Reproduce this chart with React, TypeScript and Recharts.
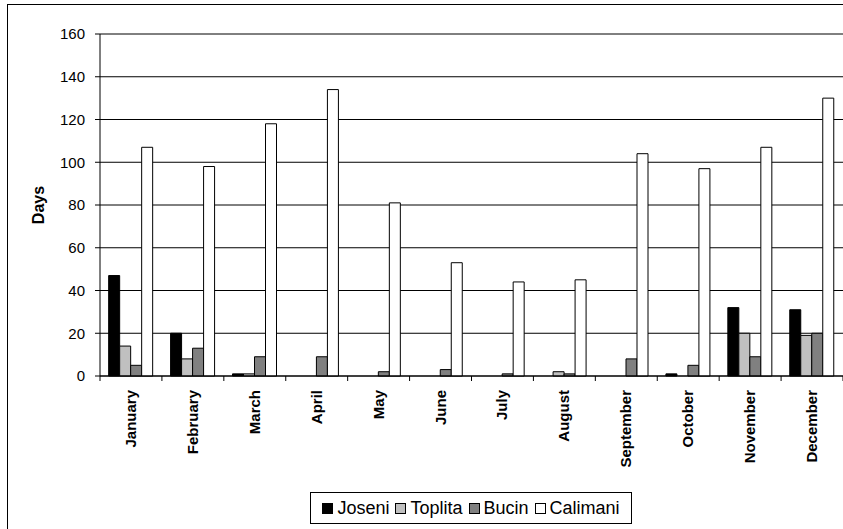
import { BarChart, Bar, XAxis, YAxis, CartesianGrid } from 'recharts';

const months = ['January', 'February', 'March', 'April', 'May', 'June', 'July', 'August', 'September', 'October', 'November', 'December'];
const joseni = [47, 20, 1, 0, 0, 0, 0, 0, 0, 1, 32, 31];
const toplita = [14, 8, 1, 0, 0, 0, 0, 2, 0, 0, 20, 19];
const bucin = [5, 13, 9, 9, 2, 3, 1, 1, 8, 5, 9, 20];
const calimani = [107, 98, 118, 134, 81, 53, 44, 45, 104, 97, 107, 130];
const yTicks = [0, 20, 40, 60, 80, 100, 120, 140, 160];

const series = [
  { key: 'Joseni', color: '#000000' },
  { key: 'Toplita', color: '#c0c0c0' },
  { key: 'Bucin', color: '#808080' },
  { key: 'Calimani', color: '#ffffff' },
];

const data = months.map((m, i) => ({
  month: m,
  Joseni: joseni[i],
  Toplita: toplita[i],
  Bucin: bucin[i],
  Calimani: calimani[i],
}));

const FONT = '"Liberation Sans", Arial, sans-serif';
const CHART_W = 843;
const CHART_H = 529;
const Y_AXIS_W = 100;
const BAND = (CHART_W - Y_AXIS_W) / months.length;

// month names run bottom-to-top; tick marks sit on the category boundaries
const MonthTick = (props: any) => {
  const { x, y, payload, index } = props;
  const left = x - BAND / 2;
  return (
    <g>
      <line x1={left} y1={y} x2={left} y2={y + 5} stroke="#000" />
      {index === months.length - 1 && (
        <line x1={x + BAND / 2} y1={y} x2={x + BAND / 2} y2={y + 5} stroke="#000" />
      )}
      <text
        x={x + 5}
        y={y + 14}
        transform={`rotate(-90 ${x + 5} ${y + 14})`}
        textAnchor="end"
        fontFamily={FONT}
        fontSize={15}
        fontWeight="bold"
        fill="#000"
      >
        {payload.value}
      </text>
    </g>
  );
};

const App = () => {
  return (
    <div style={{ position: 'absolute', left: 0, top: 0, width: CHART_W, height: CHART_H, overflow: 'hidden', background: '#fff' }}>
      <div style={{ position: 'absolute', left: 7, top: 4, width: 900, height: 600, border: '1px solid #000' }} />
      <div style={{ position: 'absolute', left: 0, top: 0 }}>
        <BarChart
          width={CHART_W}
          height={CHART_H}
          data={data}
          margin={{ top: 34, right: 0, bottom: 0, left: 0 }}
          barCategoryGap="14%"
          barGap={0}
        >
          <CartesianGrid vertical={false} stroke="#000" />
          <XAxis
            dataKey="month"
            height={CHART_H - 376}
            interval={0}
            tickLine={false}
            tickSize={0}
            tickMargin={0}
            axisLine={{ stroke: '#000' }}
            tick={<MonthTick />}
          />
          <YAxis
            width={Y_AXIS_W}
            domain={[0, 160]}
            ticks={yTicks}
            interval={0}
            tickSize={5}
            tickMargin={10}
            axisLine={{ stroke: '#000' }}
            tickLine={{ stroke: '#000' }}
            tick={{ fill: '#000', fontSize: 15, fontFamily: FONT }}
            label={{
              content: () => (
                <text
                  x={38}
                  y={205}
                  transform="rotate(-90 38 205)"
                  textAnchor="middle"
                  dominantBaseline="central"
                  fontFamily={FONT}
                  fontSize={16}
                  fontWeight="bold"
                  fill="#000"
                >
                  Days
                </text>
              ),
            }}
          />
          {series.map((s) => (
            <Bar key={s.key} dataKey={s.key} fill={s.color} stroke="#000" strokeWidth={1} isAnimationActive={false} />
          ))}
        </BarChart>
      </div>
      <div
        style={{
          position: 'absolute',
          left: 310,
          top: 492,
          width: 320,
          height: 30,
          border: '1px solid #000',
          background: '#fff',
          display: 'flex',
          alignItems: 'center',
          justifyContent: 'center',
          gap: 6,
          fontFamily: FONT,
          fontSize: 18,
          color: '#000',
        }}
      >
        {series.map((s) => (
          <div key={s.key} style={{ display: 'flex', alignItems: 'center', gap: 4 }}>
            <div style={{ width: 9, height: 9, background: s.color, border: '1px solid #000' }} />
            <span>{s.key}</span>
          </div>
        ))}
      </div>
    </div>
  );
};

export default App;
